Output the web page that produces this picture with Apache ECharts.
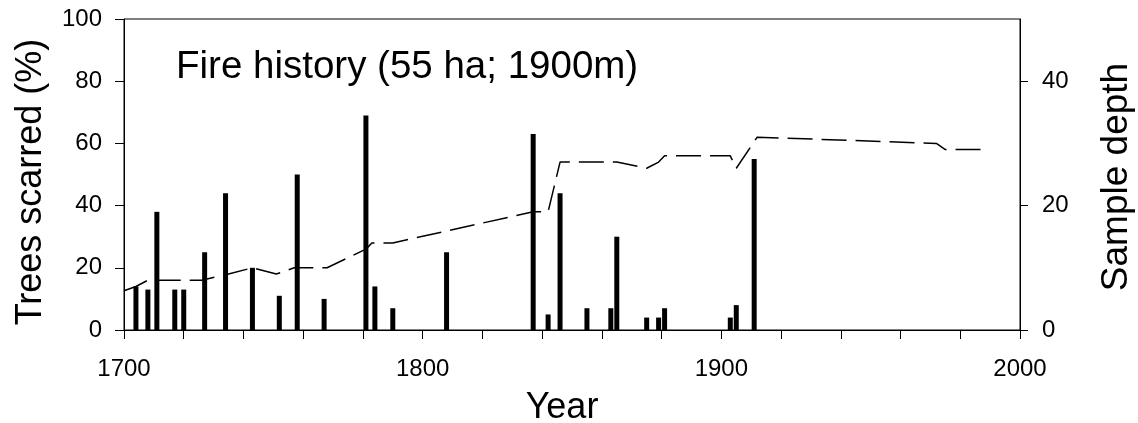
<!DOCTYPE html>
<html>
<head>
<meta charset="utf-8">
<script src="https://cdn.jsdelivr.net/npm/echarts@6/dist/echarts.min.js"></script>
<style>
  html, body { margin: 0; padding: 0; background: #fff; }
  #chart { width: 1138px; height: 423px; }
</style>
</head>
<body>
<div id="chart"></div>
<script>
// Fire years and percentage of trees scarred in each
var fireYears = [1704, 1708, 1711, 1717, 1720, 1727, 1734, 1743, 1752, 1758, 1767,
                 1781, 1784, 1790, 1808, 1837, 1842, 1846, 1855, 1863, 1865,
                 1875, 1879, 1881, 1903, 1905, 1911];
var scarredPct = [14, 13, 38, 13, 13, 25, 44, 20, 11, 50, 10,
                  69, 14, 7, 25, 63, 5, 44, 7, 7, 30,
                  4, 4, 7, 4, 8, 55];

// Sample depth (number of recording trees) through time
var depthYears = [1700, 1704, 1708, 1726, 1735, 1743, 1751, 1757, 1768, 1781, 1783, 1790,
                  1837, 1842, 1846, 1865, 1875, 1879, 1881, 1903, 1905, 1912, 1972, 1975, 1989];
var depthValues = [6.3, 7, 8, 8, 9, 10, 9, 10, 10, 13, 14, 14,
                   19, 19, 27, 27, 26, 27, 28, 28, 26, 31, 30, 29, 29];

// Axis tick labels
var yearLabels = [1700, 1800, 1900, 2000];
var depthLabels = [0, 20, 40];

var FONT = '"Liberation Sans", Arial, Helvetica, sans-serif';

var barData = fireYears.map(function (y, i) { return [y, scarredPct[i]]; });
var lineData = depthYears.map(function (y, i) { return [y, depthValues[i]]; });

var chart = echarts.init(document.getElementById('chart'), null, { renderer: 'canvas' });

var axisLine = { show: true, lineStyle: { color: '#000', width: 1 } };
var tickFont = { fontFamily: FONT, fontSize: 24, color: '#000' };

chart.setOption({
  backgroundColor: '#fff',
  animation: false,
  grid: {
    left: 124, top: 19, width: 896, height: 311,
    show: true, borderColor: '#000', borderWidth: 1, backgroundColor: 'transparent'
  },
  xAxis: {
    type: 'value', min: 1700, max: 2000, interval: 20,
    axisLine: axisLine,
    axisTick: { show: true, inside: false, length: 9, lineStyle: { color: '#000' } },
    axisLabel: Object.assign({
      customValues: yearLabels, margin: 27,
      formatter: function (v) { return String(v); }
    }, tickFont),
    splitLine: { show: false }
  },
  yAxis: [{
    type: 'value', min: 0, max: 100, interval: 20,
    axisLine: axisLine,
    axisTick: { show: true, length: 9, lineStyle: { color: '#000' } },
    axisLabel: Object.assign({ margin: 22 }, tickFont),
    splitLine: { show: false }
  }, {
    type: 'value', min: 0, max: 50, position: 'right',
    axisLine: axisLine,
    axisTick: { show: true, customValues: depthLabels, length: 8, lineStyle: { color: '#000' } },
    axisLabel: Object.assign({ customValues: depthLabels, margin: 22 }, tickFont),
    splitLine: { show: false }
  }],
  graphic: [{
    type: 'text', left: 176, top: 48,
    style: { text: 'Fire history (55 ha; 1900m)', font: '38.5px ' + FONT, fill: '#000' }
  }, {
    type: 'text', x: 562, y: 408,
    style: { text: 'Year', font: '36px ' + FONT, fill: '#000', align: 'center', verticalAlign: 'middle' }
  }, {
    type: 'text', x: 31, y: 182, rotation: Math.PI / 2,
    style: { text: 'Trees scarred (%)', font: '36px ' + FONT, fill: '#000', align: 'center', verticalAlign: 'middle' }
  }, {
    type: 'text', x: 1117, y: 177, rotation: Math.PI / 2,
    style: { text: 'Sample depth', font: '37px ' + FONT, fill: '#000', align: 'center', verticalAlign: 'middle' }
  }],
  series: [{
    name: 'Trees scarred',
    type: 'bar',
    yAxisIndex: 0,
    barWidth: 5,
    itemStyle: { color: '#000' },
    data: barData
  }, {
    name: 'Sample depth',
    type: 'line',
    yAxisIndex: 1,
    symbol: 'none',
    lineStyle: { color: '#000', width: 1.5, type: [25, 9] },
    data: lineData,
    z: 3
  }]
});
</script>
</body>
</html>
